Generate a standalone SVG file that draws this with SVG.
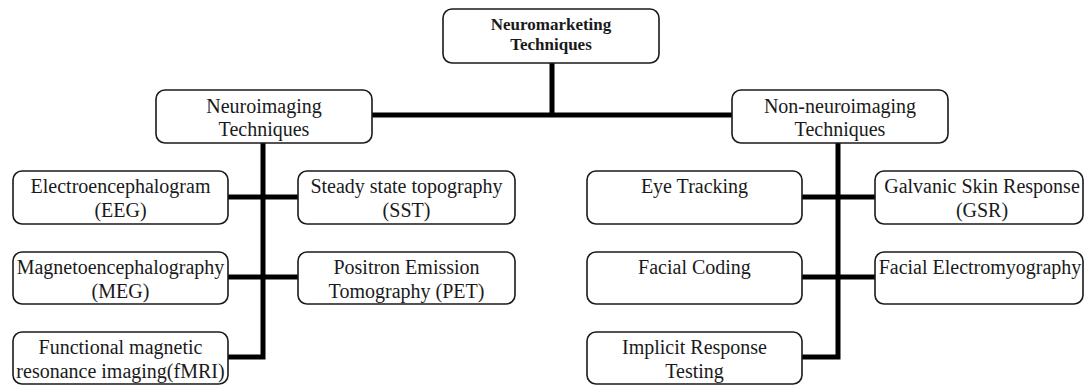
<svg xmlns="http://www.w3.org/2000/svg" width="1085" height="385" viewBox="0 0 1085 385">
<style>
.box{fill:#fff;stroke:#1a1a1a;stroke-width:1.6}
.t{font-family:"Liberation Serif","Times New Roman",serif;font-size:20px;fill:#1a1a1a;text-anchor:middle}
.b{font-family:"Liberation Serif","Times New Roman",serif;font-size:17px;font-weight:bold;fill:#1a1a1a;text-anchor:middle}
.c{fill:none;stroke:#000;stroke-width:5;stroke-linejoin:miter}
</style>
<rect width="1085" height="385" fill="#fff"/>
<g id="connectors">
<path class="c" d="M552 63V115M372 115H732"/>
<path class="c" d="M263 143V359.5M228 197H298M228 277H298M228 357H265.5"/>
<path class="c" d="M838 143V359.5M802 197H875M802 277H875M802 357H840.5"/>
</g>
<g id="root"><rect class="box" x="443" y="9" width="216" height="54" rx="9"/><text class="b" x="551" y="30">Neuromarketing</text><text class="b" x="551" y="50">Techniques</text></g>
<g id="neuroimaging"><rect class="box" x="156" y="90" width="216" height="53" rx="9"/><text class="t" x="264" y="113">Neuroimaging</text><text class="t" x="264" y="136">Techniques</text></g>
<g id="nonneuroimaging"><rect class="box" x="732" y="90" width="216" height="53" rx="9"/><text class="t" x="840" y="113">Non-neuroimaging</text><text class="t" x="840" y="136">Techniques</text></g>
<g id="eeg"><rect class="box" x="13" y="171" width="215" height="53" rx="9"/><text class="t" x="120.5" y="193">Electroencephalogram</text><text class="t" x="120.5" y="217">(EEG)</text></g>
<g id="sst"><rect class="box" x="298" y="171" width="217" height="53" rx="9"/><text class="t" x="406.5" y="193">Steady state topography</text><text class="t" x="406.5" y="217">(SST)</text></g>
<g id="meg"><rect class="box" x="13" y="252" width="215" height="52" rx="9"/><text class="t" x="120.5" y="274">Magnetoencephalography</text><text class="t" x="120.5" y="298">(MEG)</text></g>
<g id="pet"><rect class="box" x="298" y="252" width="217" height="52" rx="9"/><text class="t" x="406.5" y="274">Positron Emission</text><text class="t" x="406.5" y="298">Tomography (PET)</text></g>
<g id="fmri"><rect class="box" x="13" y="332" width="215" height="52" rx="9"/><text class="t" x="120.5" y="354">Functional magnetic</text><text class="t" x="120.5" y="378">resonance imaging(fMRI)</text></g>
<g id="eyetracking"><rect class="box" x="587" y="171" width="215" height="53" rx="9"/><text class="t" x="694.5" y="193">Eye Tracking</text></g>
<g id="gsr"><rect class="box" x="875" y="171" width="208" height="53" rx="9"/><text class="t" x="982" y="193">Galvanic Skin Response</text><text class="t" x="982" y="217">(GSR)</text></g>
<g id="facialcoding"><rect class="box" x="587" y="252" width="215" height="52" rx="9"/><text class="t" x="694.5" y="274">Facial Coding</text></g>
<g id="femg"><rect class="box" x="875" y="252" width="208" height="52" rx="9"/><text class="t" x="980" y="274">Facial Electromyography</text></g>
<g id="irt"><rect class="box" x="587" y="332" width="215" height="52" rx="9"/><text class="t" x="694.5" y="354">Implicit Response</text><text class="t" x="694.5" y="378">Testing</text></g>
</svg>
